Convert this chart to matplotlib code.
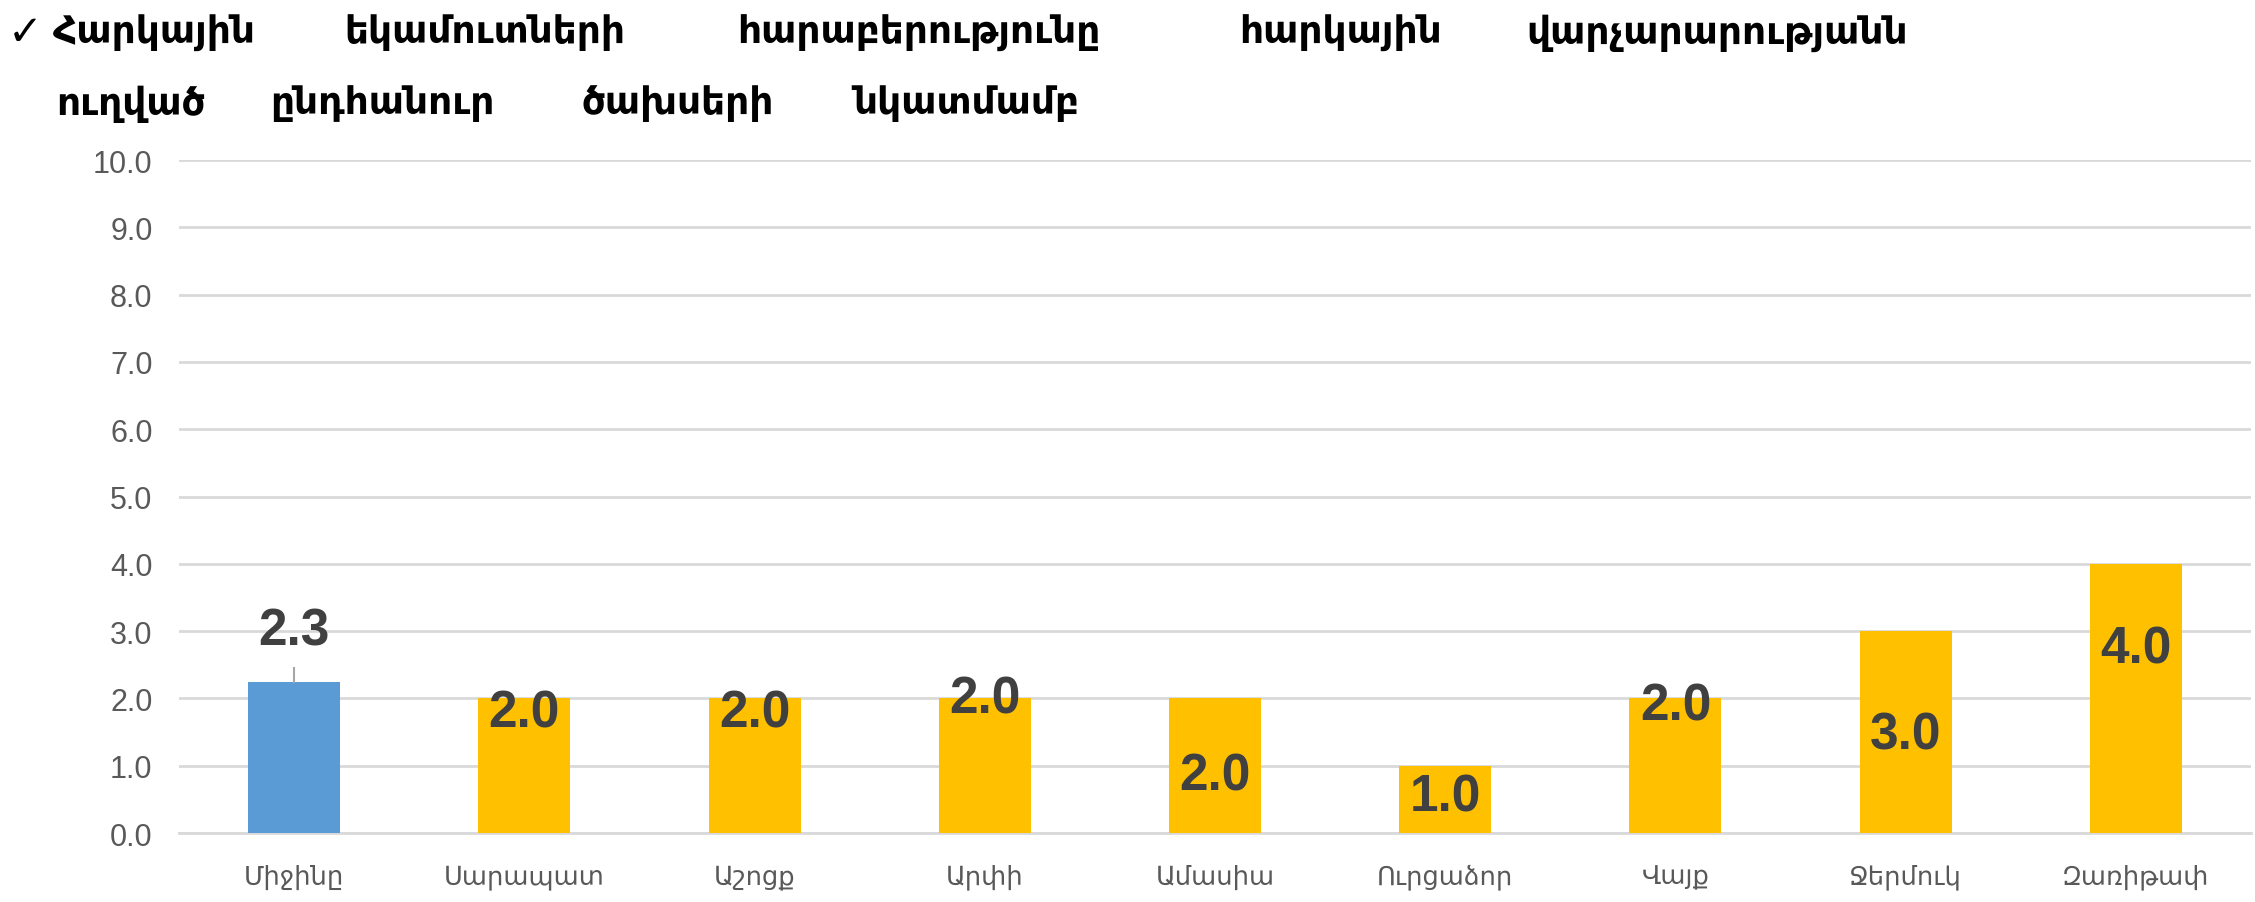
import matplotlib
matplotlib.use("Agg")
import matplotlib.pyplot as plt

categories = ["Միջինը", "Սարապատ", "Աշոցք", "Արփի", "Ամասիա", "Ուրցաձոր", "Վայք", "Ջերմուկ", "Զառիթափ"]
values = [2.25, 2.0, 2.0, 2.0, 2.0, 1.0, 2.0, 3.0, 4.0]
value_labels = ["2.3", "2.0", "2.0", "2.0", "2.0", "1.0", "2.0", "3.0", "4.0"]
label_y = [3.0, 1.79, 1.79, 1.99, 0.85, 0.53, 1.88, 1.45, 2.73]
yticks = [0, 1, 2, 3, 4, 5, 6, 7, 8, 9, 10]
title_line1 = ["Հարկային", "եկամուտների", "հարաբերությունը", "հարկային", "վարչարարությանն"]
title_line2 = ["ուղված", "ընդհանուր", "ծախսերի", "նկատմամբ"]

colors = ["#5b9bd5"] + ["#ffc000"] * (len(categories) - 1)
W, H = 2255, 903
fig = plt.figure(figsize=(W / 100, H / 100), dpi=100)
ax = fig.add_axes([179 / W, 1 - 834 / H, (2251 - 179) / W, (834 - 161) / H])

x = list(range(len(categories)))
ax.bar(x, values, width=0.40, color=colors, zorder=3)
ax.set_xlim(-0.5, len(categories) - 0.5)
ax.set_ylim(0, 10)
ax.set_yticks(yticks)
ax.set_yticklabels([f"{v:.1f}" for v in yticks])
ax.yaxis.grid(True, color="#d9d9d9", linewidth=2, zorder=0)
ax.set_axisbelow(True)
for s in ["left", "right", "top"]:
    ax.spines[s].set_visible(False)
ax.spines["bottom"].set_color("#d9d9d9")
ax.spines["bottom"].set_linewidth(2)
ax.tick_params(axis="both", length=0, colors="#595959")
ax.tick_params(axis="y", pad=19)
ax.tick_params(axis="x", pad=22)
ax.set_xticks(x)
ax.set_xticklabels(categories, fontsize=18.5, color="#595959", family=["DejaVu Sans Condensed", "DejaVu Sans"])
for lab in ax.get_yticklabels():
    lab.set_family(["Liberation Sans", "DejaVu Sans"])
    lab.set_fontsize(22)

for i, (v, t, ly) in enumerate(zip(values, value_labels, label_y)):
    ax.text(i, ly, t, ha="center", va="center", fontsize=37, fontweight="bold",
            color="#404040", family=["Liberation Sans", "DejaVu Sans"], zorder=5)
# leader line for the average bar
ax.plot([0, 0], [values[0], values[0] + 0.2], color="#a6a6a6", linewidth=1.5, zorder=4)

tfam = ["DejaVu Sans Condensed", "DejaVu Sans"]
fig.text(8 / W, 1 - 33 / H, "✓", fontsize=30, color="black", va="center", ha="left", family=["DejaVu Sans"])
xs1 = [53, 344, 737, 1239, 1526]
for xx, w in zip(xs1, title_line1):
    fig.text(xx / W, 1 - 33 / H, w, fontsize=27, fontweight="bold", color="black", va="center", ha="left", family=tfam)
xs2 = [56, 270, 582, 853]
for xx, w in zip(xs2, title_line2):
    fig.text(xx / W, 1 - 104 / H, w, fontsize=27, fontweight="bold", color="black", va="center", ha="left", family=tfam)

fig.savefig("out.png", dpi=100, facecolor="white")
